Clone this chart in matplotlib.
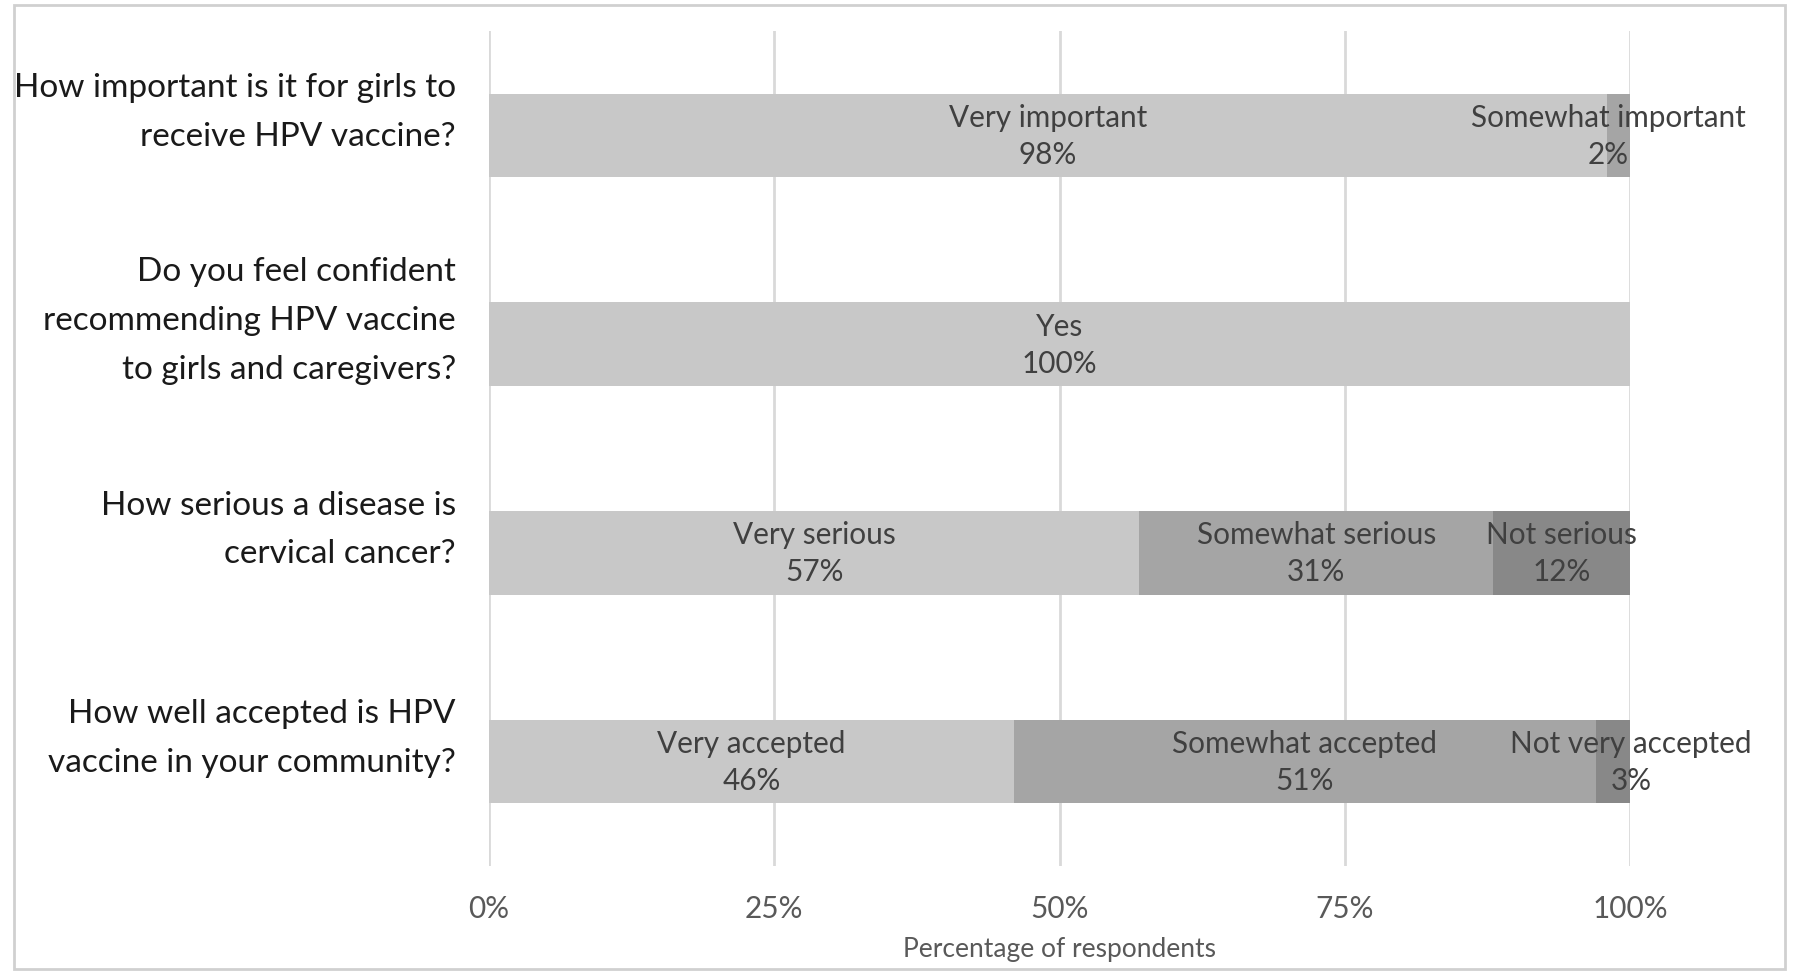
import matplotlib
matplotlib.use("Agg")
import matplotlib.pyplot as plt
from matplotlib.patches import Rectangle
from matplotlib.transforms import blended_transform_factory

plt.rcParams['font.family'] = ['Lato', 'DejaVu Sans']

questions = [
    "How important is it for girls to\nreceive HPV vaccine?",
    "Do you feel confident\nrecommending HPV vaccine\nto girls and caregivers?",
    "How serious a disease is\ncervical cancer?",
    "How well accepted is HPV\nvaccine in your community?",
]
segment_labels = [
    ["Very important", "Somewhat important"],
    ["Yes"],
    ["Very serious", "Somewhat serious", "Not serious"],
    ["Very accepted", "Somewhat accepted", "Not very accepted"],
]
segment_values = [
    [98, 2],
    [100],
    [57, 31, 12],
    [46, 51, 3],
]
tick_values = [0, 25, 50, 75, 100]
tick_labels = ["0%", "25%", "50%", "75%", "100%"]
x_label = "Percentage of respondents"

colors = ["#c8c8c8", "#a5a5a5", "#888888"]
# small horizontal nudges (pixels) of a few overflowing data labels
label_nudge = {(0, 1): -10, (3, 2): 18}

fig = plt.figure(figsize=(18, 9.78), dpi=100)
fig.patches.append(Rectangle((14/1800, 1-970/978), (1785-14)/1800, (970-6)/978,
                             transform=fig.transFigure, fill=False,
                             edgecolor="#d0d0d0", linewidth=2))
ax = fig.add_axes([489/1800, 1-867/978, (1630-489)/1800, (867-32)/978])

for i, (labs, vals) in enumerate(zip(segment_labels, segment_values)):
    left = 0
    for j, (lab, v) in enumerate(zip(labs, vals)):
        ax.barh(i, v, left=left, height=0.4, color=colors[j], zorder=2)
        ax.annotate(f"{lab}\n{v}%", (left + v/2, i),
                    xytext=(label_nudge.get((i, j), 0) * 0.72, 0),
                    textcoords="offset points", ha="center", va="center",
                    fontsize=21.4, color="#404040", linespacing=1.4, zorder=3)
        left += v

ax.set_ylim(3.5, -0.5)
ax.set_xlim(0, 100)
ax.set_xticks(tick_values)
ax.set_xticklabels(tick_labels, fontsize=21.4, color="#595959")
ax.set_yticks([])
trans = blended_transform_factory(ax.transAxes, ax.transData)
for i, q in enumerate(questions):
    ax.text(-0.029, i - 0.115, q, transform=trans, ha="right", va="center",
            fontsize=24, color="#1a1a1a", linespacing=1.78)
ax.tick_params(axis="both", length=0)
ax.tick_params(axis="x", pad=20)
for s in ax.spines.values():
    s.set_visible(False)
ax.grid(axis="x", color="#d9d9d9", linewidth=2, zorder=0)
ax.set_axisbelow(True)
ax.set_xlabel(x_label, fontsize=19, color="#595959", labelpad=10)

fig.savefig("out.png", dpi=100)
